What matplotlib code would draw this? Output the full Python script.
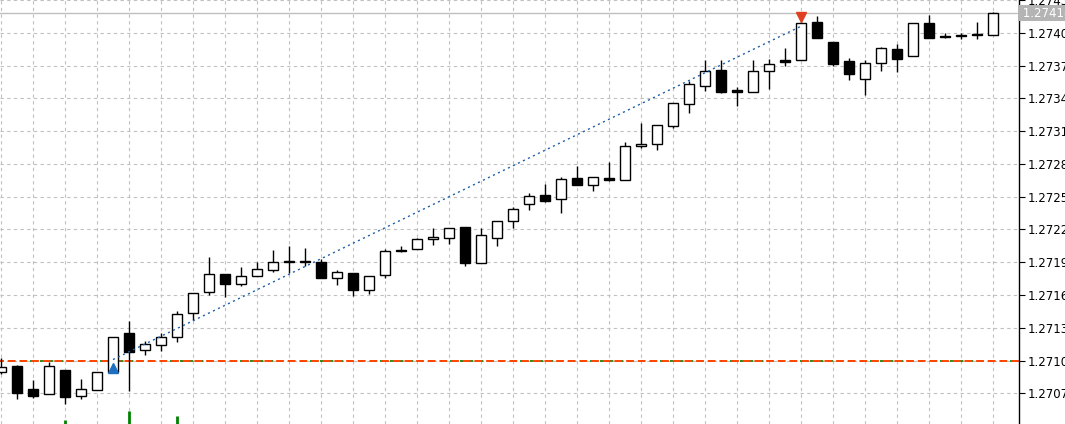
import matplotlib
matplotlib.use("Agg")
import matplotlib.pyplot as plt
import numpy as np

opens = [1.27090,1.27095,1.27074,1.27069,1.27091,1.27068,1.27073,1.27090,1.27125,1.27110,
         1.27114,1.27122,1.27144,1.27163,1.27179,1.27170,1.27177,1.27183,1.27191,1.27190,
         1.27190,1.27176,1.27180,1.27165,1.27178,1.27201,1.27202,1.27211,1.27212,1.27222,
         1.27189,1.27212,1.27228,1.27243,1.27252,1.27248,1.27267,1.27261,1.27267,1.27265,
         1.27296,1.27298,1.27315,1.27335,1.27351,1.27366,1.27347,1.27346,1.27365,1.27375,
         1.27375,1.27410,1.27392,1.27374,1.27358,1.27372,1.27385,1.27379,1.27409,1.27396,
         1.27397,1.27399,1.27398]
highs = [1.27102,1.27096,1.27082,1.27099,1.27091,1.27083,1.27090,1.27122,1.27136,1.27118,
         1.27125,1.27145,1.27162,1.27195,1.27179,1.27186,1.27190,1.27201,1.27205,1.27203,
         1.27193,1.27183,1.27180,1.27177,1.27202,1.27205,1.27212,1.27221,1.27221,1.27222,
         1.27221,1.27228,1.27241,1.27253,1.27262,1.27268,1.27278,1.27268,1.27282,1.27300,
         1.27317,1.27316,1.27336,1.27356,1.27375,1.27375,1.27350,1.27375,1.27376,1.27386,
         1.27410,1.27415,1.27392,1.27377,1.27375,1.27387,1.27390,1.27409,1.27416,1.27400,
         1.27400,1.27410,1.27419]
lows = [1.27088,1.27065,1.27066,1.27069,1.27060,1.27065,1.27073,1.27090,1.27072,1.27105,
        1.27109,1.27117,1.27137,1.27160,1.27158,1.27168,1.27177,1.27181,1.27180,1.27187,
        1.27176,1.27169,1.27159,1.27161,1.27176,1.27199,1.27202,1.27206,1.27207,1.27187,
        1.27189,1.27205,1.27221,1.27238,1.27245,1.27235,1.27261,1.27255,1.27264,1.27265,
        1.27295,1.27293,1.27313,1.27327,1.27347,1.27345,1.27333,1.27346,1.27349,1.27370,
        1.27375,1.27395,1.27370,1.27357,1.27343,1.27365,1.27364,1.27379,1.27395,1.27395,
        1.27394,1.27394,1.27398]
closes = [1.27094,1.27070,1.27068,1.27095,1.27067,1.27074,1.27090,1.27122,1.27108,1.27115,
          1.27122,1.27143,1.27162,1.27179,1.27170,1.27177,1.27184,1.27190,1.27190,1.27191,
          1.27176,1.27181,1.27165,1.27177,1.27200,1.27200,1.27211,1.27213,1.27221,1.27189,
          1.27215,1.27228,1.27239,1.27251,1.27246,1.27266,1.27261,1.27268,1.27265,1.27296,
          1.27298,1.27316,1.27336,1.27353,1.27365,1.27346,1.27346,1.27365,1.27371,1.27373,
          1.27409,1.27395,1.27371,1.27362,1.27372,1.27386,1.27376,1.27409,1.27395,1.27396,
          1.27397,1.27398,1.27418]
yticks = [1.27070,1.27100,1.27130,1.27160,1.27190,1.27220,1.27250,1.27280,1.27310,1.27340,1.27370,1.27400,1.27430]
level_price = 1.27100
buy_idx, buy_price = 7, 1.27093
sell_idx, sell_price = 50, 1.27414
trend_x = [7, 50]
trend_y = [1.27101, 1.27406]
vol_idx = [4, 8, 11]
vol_h = [0.00004, 0.00012, 0.00007]
bid_label = "1.27418"

W, H = 1065, 424
fig = plt.figure(figsize=(W/100, H/100), dpi=100)
ax = fig.add_axes([0, 0, 1019/W, 1])
x = np.arange(len(opens))
ymin, ymax = 1.27042, 1.27427
ax.set_xlim(-0.0625, 63.625)
ax.set_ylim(ymin, ymax)

for gx in range(0, 64, 2):
    ax.axvline(gx, color='#c0c0c0', ls=(0, (3, 3)), lw=0.8, zorder=0)
for gy in yticks:
    ax.axhline(gy, color='#c0c0c0', ls=(0, (3, 3)), lw=0.8, zorder=0)

ax.axhline(level_price, color='#008000', ls=(0, (2, 4)), lw=1.2, zorder=1)
ax.axhline(level_price, color='#ff4500', ls=(2, (4, 2)), lw=1.4, zorder=1)

ax.vlines(vol_idx, ymin, [ymin + h for h in vol_h], color='#008000', lw=2, zorder=2)

o = np.array(opens); c = np.array(closes)
ax.vlines(x, lows, highs, color='black', lw=1.0, zorder=3)
bull = c >= o
bottoms = np.minimum(o, c)
heights = np.maximum(np.abs(c - o), 0.000012)
ax.bar(x[bull], heights[bull], bottom=bottoms[bull], width=0.6, color='white',
       edgecolor='black', linewidth=1.0, zorder=4)
ax.bar(x[~bull], heights[~bull], bottom=bottoms[~bull], width=0.6, color='black',
       edgecolor='black', linewidth=1.0, zorder=4)

ax.plot(trend_x, trend_y, color='#1f5fa8', ls=(0, (1.5, 2.5)), lw=1.0, zorder=5)
ax.plot([buy_idx], [buy_price], marker='^', color='#1f6fc0', ms=7, zorder=6)
ax.plot([sell_idx], [sell_price], marker='v', color='#e04020', ms=7, zorder=6)

for s in ['top', 'left', 'bottom']:
    ax.spines[s].set_visible(False)
ax.spines['right'].set_color('black')
ax.spines['right'].set_linewidth(1.0)
ax.yaxis.tick_right()
ax.set_yticks(yticks)
ax.set_yticklabels([f"{v:.5f}" for v in yticks], fontsize=8.5, color='black')
ax.tick_params(axis='y', length=4, width=0.8, pad=2)
ax.set_xticks([])

ax.axhline(closes[-1], color='#c0c0c0', lw=1.0, zorder=1)
ax.text(1.0, closes[-1], " " + bid_label, transform=ax.get_yaxis_transform(),
        fontsize=8.5, color='white', va='center', ha='left', clip_on=False,
        bbox=dict(boxstyle='square,pad=0.1', fc='#b4b4b4', ec='none'), zorder=10)

fig.savefig("out.png", dpi=100)
